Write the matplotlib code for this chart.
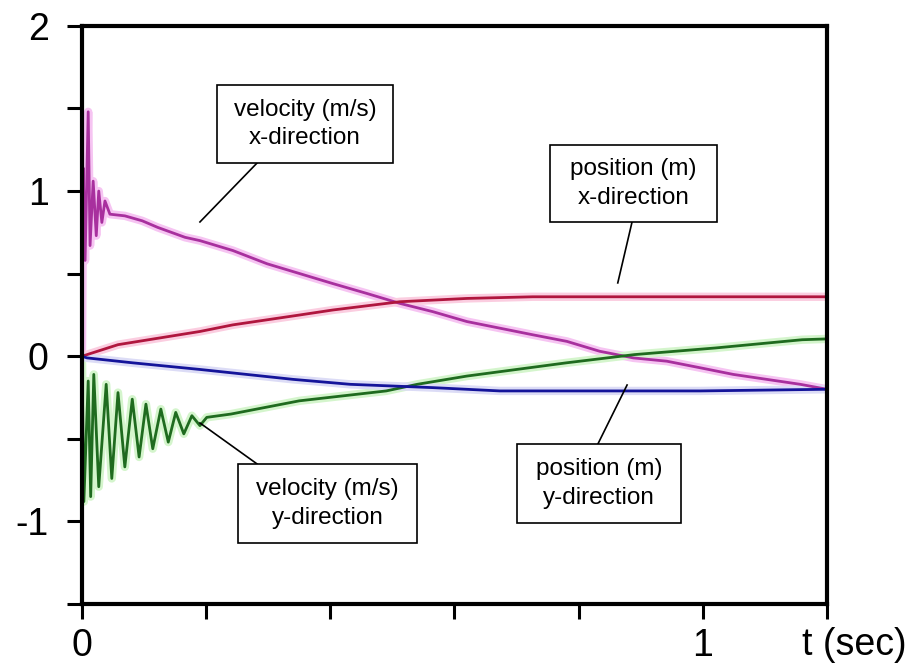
import matplotlib.pyplot as plt
from matplotlib.patches import Rectangle

plt.rcParams['font.family'] = ['Liberation Sans', 'DejaVu Sans']

# velocity, x-direction (m/s)
t_vx = [0.000, 0.002, 0.005, 0.010, 0.013, 0.018, 0.023, 0.027, 0.032, 0.037, 0.045,
        0.069, 0.097, 0.122, 0.166, 0.190, 0.243, 0.298, 0.351, 0.404, 0.459, 0.512,
        0.565, 0.620, 0.673, 0.726, 0.781, 0.834, 0.888, 0.942, 0.996, 1.049, 1.103,
        1.157, 1.200]
vx = [0.00, 1.14, 0.58, 1.48, 0.67, 1.06, 0.73, 1.00, 0.81, 0.94, 0.86,
      0.85, 0.82, 0.78, 0.72, 0.70, 0.64, 0.56, 0.50, 0.44, 0.38, 0.32,
      0.27, 0.21, 0.17, 0.13, 0.09, 0.03, -0.01, -0.03, -0.07, -0.11, -0.14,
      -0.17, -0.20]

# velocity, y-direction (m/s)
t_vy = [0.000, 0.003, 0.010, 0.014, 0.019, 0.027, 0.039, 0.048, 0.058, 0.069, 0.081,
        0.092, 0.103, 0.114, 0.127, 0.139, 0.151, 0.164, 0.177, 0.190, 0.201,
        0.240, 0.350, 0.490, 0.540, 0.620, 0.700, 0.780, 0.890, 1.020, 1.160, 1.200]
vy = [0.00, -0.88, -0.15, -0.85, -0.11, -0.79, -0.17, -0.74, -0.22, -0.67, -0.26,
      -0.61, -0.29, -0.56, -0.32, -0.52, -0.34, -0.47, -0.36, -0.42, -0.37,
      -0.35, -0.27, -0.21, -0.17, -0.12, -0.08, -0.04, 0.01, 0.05, 0.10, 0.105]

# position, x-direction (m)
t_px = [0.000, 0.058, 0.190, 0.243, 0.351, 0.404, 0.512, 0.620, 0.726, 1.049, 1.200]
px = [0.00, 0.07, 0.15, 0.19, 0.25, 0.28, 0.33, 0.35, 0.36, 0.36, 0.36]

# position, y-direction (m)
t_py = [0.000, 0.008, 0.082, 0.190, 0.340, 0.432, 0.565, 0.673, 0.834, 0.996, 1.200]
py = [0.00, -0.01, -0.04, -0.08, -0.14, -0.17, -0.19, -0.21, -0.21, -0.21, -0.20]

xticks = [0, 0.2, 0.4, 0.6, 0.8, 1.0, 1.2]
xticklabels = ['0', '', '', '', '', '1', '']
yticks = [-1.5, -1, -0.5, 0, 0.5, 1, 1.5, 2]
yticklabels = ['', '-1', '', '0', '', '1', '', '2']

fig = plt.figure(figsize=(9.13, 6.66), dpi=100)
ax = fig.add_axes([0.0898, 0.0931, 0.816, 0.868])

# pale halo under each trace, then the trace itself
traces = [(t_vx, vx, '#f6c4f2', '#a8309e'),
          (t_vy, vy, '#d4f5cc', '#1f6b1f'),
          (t_px, px, '#fbcde0', '#b0163e'),
          (t_py, py, '#dcdcf6', '#14149a')]
for t, v, halo, col in traces:
    ax.plot(t, v, color=halo, lw=6, solid_capstyle='butt', zorder=1)
for t, v, halo, col in traces:
    ax.plot(t, v, color=col, lw=2, zorder=2)

# labelled boxes: (text, t0, t1, v0, v1, pointer start, pointer end)
boxes = [('velocity (m/s)\nx-direction', 0.2175, 0.501, 1.170, 1.643, (0.282, 1.170), (0.190, 0.813)),
         ('position (m)\nx-direction', 0.754, 1.023, 0.813, 1.279, (0.886, 0.813), (0.863, 0.444)),
         ('velocity (m/s)\ny-direction', 0.251, 0.540, -1.131, -0.652, (0.282, -0.652), (0.190, -0.404)),
         ('position (m)\ny-direction', 0.701, 0.965, -1.010, -0.531, (0.831, -0.531), (0.878, -0.174))]
for txt, t0, t1, v0, v1, p0, p1 in boxes:
    ax.add_patch(Rectangle((t0, v0), t1 - t0, v1 - v0, facecolor='white',
                           edgecolor='black', lw=1.2, zorder=4))
    ax.text((t0 + t1) / 2, (v0 + v1) / 2, txt, ha='center', va='center',
            multialignment='center', fontsize=17.5, linespacing=1.4, zorder=5)
    ax.plot([p0[0], p1[0]], [p0[1], p1[1]], color='black', lw=1.2, zorder=3)

ax.set_xlim(0, 1.2)
ax.set_ylim(-1.5, 2)
ax.set_xticks(xticks)
ax.set_xticklabels(xticklabels)
ax.set_yticks(yticks)
ax.set_yticklabels(yticklabels)
ax.tick_params(direction='out', length=11, width=2.2, labelsize=27, pad=6)
ax.tick_params(axis='y', pad=13)
for s in ax.spines.values():
    s.set_linewidth(3)
ax.text(1.037, -0.04, 't (sec)', transform=ax.transAxes, ha='center', va='top',
        fontsize=27)

fig.savefig('out.png', dpi=100)
